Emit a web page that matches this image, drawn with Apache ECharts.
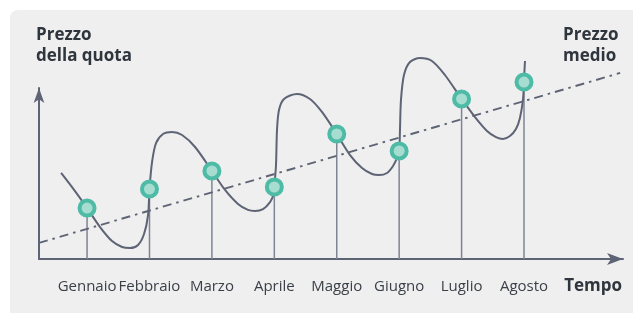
<!DOCTYPE html>
<html>
<head>
<meta charset="utf-8">
<script src="https://cdn.jsdelivr.net/npm/echarts@6/dist/echarts.min.js"></script>
<style>
  html, body { margin: 0; padding: 0; background: #fff; }
  #chart { width: 633px; height: 313px; }
</style>
</head>
<body>
<div id="chart"></div>
<script>
// mesi (x = 1..8)
const months = ['Gennaio', 'Febbraio', 'Marzo', 'Aprile', 'Maggio', 'Giugno', 'Luglio', 'Agosto']
// prezzo della quota a fine mese
const monthPrice = [29.8, 40.9, 51.5, 42.1, 73.1, 63.2, 93.6, 103.5]
// andamento del prezzo nel tempo [mese, prezzo]
const priceX = [0.584, 0.792, 1, 1.208, 1.4, 1.561, 1.689, 1.817, 1.913, 1.977, 2, 2.041, 2.105, 2.217, 2.362,
  2.522, 2.73, 3, 3.21, 3.418, 3.578, 3.69, 3.819, 3.931, 3.99, 4, 4.027, 4.043, 4.075, 4.155, 4.363,
  4.571, 4.763, 5, 5.213, 5.405, 5.565, 5.677, 5.806, 5.902, 5.966, 6, 6.013, 6.029, 6.077, 6.173, 6.333,
  6.525, 6.733, 7, 7.215, 7.407, 7.551, 7.663, 7.775, 7.871, 7.935, 7.983, 8, 8.008, 8.016]
const priceY = [50.3, 40.4, 29.8, 18.7, 10.5, 7.0, 6.4, 8.2, 14.6, 25.7, 40.9, 56.7, 67.8, 73.1, 74.3,
  72.5, 65.5, 51.5, 40.4, 32.2, 28.7, 28.1, 29.2, 33.3, 38.0, 42.1, 55.0, 75.4, 87.1, 93.6, 96.5,
  93.6, 86.0, 73.1, 60.8, 53.2, 49.7, 49.1, 50.3, 54.4, 59.1, 63.2, 75.4, 93.0, 107.6, 115.2, 117.5,
  115.8, 107.6, 93.6, 83.0, 74.9, 71.3, 70.2, 71.9, 76.0, 82.5, 93.0, 103.5, 110.5, 115.8]
// prezzo medio (retta)
const avgX = [0.23, 9.54]
const avgY = [9.4, 108.8]

const lineColor = '#5e6475'
const chart = echarts.init(document.getElementById('chart'))

chart.setOption({
  animation: false,
  textStyle: { fontFamily: 'Open Sans' },
  graphic: [
    { type: 'rect', z: -10, shape: { x: 10, y: 10, width: 640, height: 320, r: 8 }, style: { fill: '#efefef' } },
    { type: 'text', left: 36, top: 25, style: { text: 'Prezzo\ndella quota', font: 'bold 17px "Open Sans"', fill: '#2f353d', lineHeight: 21 } },
    { type: 'text', left: 563, top: 25, style: { text: 'Prezzo\nmedio', font: 'bold 17px "Open Sans"', fill: '#2f353d', lineHeight: 21 } }
  ],
  grid: { left: 39, right: 10, top: 88, bottom: 54 },
  xAxis: {
    type: 'value',
    min: 0.23,
    max: 9.586,
    splitLine: { show: false },
    axisTick: { show: false },
    axisLine: {
      lineStyle: { color: lineColor, width: 2 },
      symbol: ['none', 'arrow'],
      symbolSize: [9, 16]
    },
    axisLabel: {
      customValues: [1, 2, 3, 4, 5, 6, 7, 8],
      formatter: v => months[Math.round(v) - 1],
      hideOverlap: false,
      color: '#3b4048',
      fontSize: 15,
      margin: 20
    },
    name: 'Tempo',
    nameLocation: 'end',
    nameGap: -1,
    nameTextStyle: {
      fontSize: 17,
      fontWeight: 'bold',
      color: '#2f353d',
      align: 'right',
      verticalAlign: 'top',
      padding: [19, 0, 0, 0]
    }
  },
  yAxis: {
    type: 'value',
    min: 0,
    max: 100,
    splitLine: { show: false },
    axisTick: { show: false },
    axisLabel: { show: false },
    axisLine: {
      lineStyle: { color: lineColor, width: 2 },
      symbol: ['none', 'arrow'],
      symbolSize: [8, 15]
    }
  },
  series: [
    {
      // linee verticali dal punto all'asse
      type: 'bar',
      silent: true,
      barWidth: 1.5,
      z: 1,
      itemStyle: { color: '#7f8494' },
      data: monthPrice.map((v, i) => [i + 1, v])
    },
    {
      type: 'line',
      silent: true,
      clip: false,
      symbol: 'none',
      z: 2,
      lineStyle: { color: lineColor, width: 1.9, type: [9, 5, 2.5, 5] },
      data: avgX.map((x, i) => [x, avgY[i]])
    },
    {
      type: 'line',
      silent: true,
      clip: false,
      smooth: 0.3,
      symbol: 'none',
      z: 3,
      lineStyle: { color: lineColor, width: 2 },
      data: priceX.map((x, i) => [x, priceY[i]])
    },
    {
      type: 'scatter',
      silent: true,
      clip: false,
      symbolSize: 15,
      z: 4,
      itemStyle: { color: '#a7ddd1', borderColor: '#4dbba6', borderWidth: 4, opacity: 1 },
      data: monthPrice.map((v, i) => [i + 1, v])
    }
  ]
})
</script>
</body>
</html>
